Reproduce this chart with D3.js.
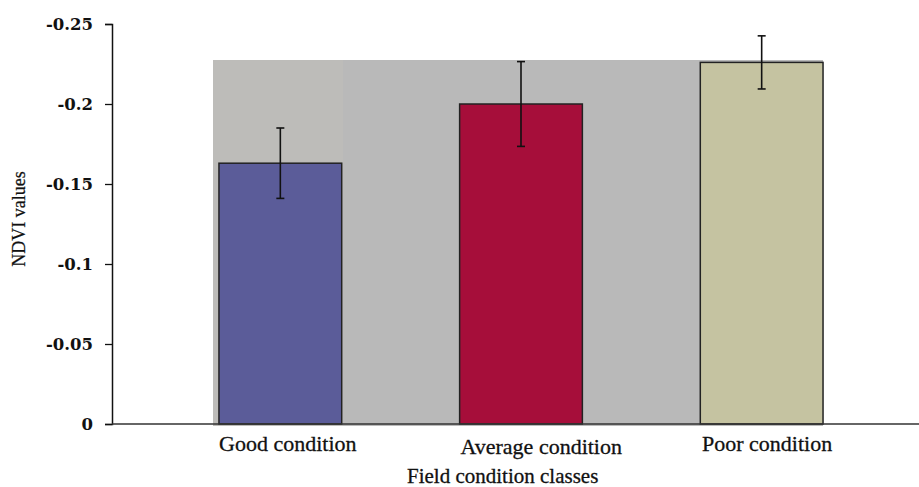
<!DOCTYPE html>
<html>
<head>
<meta charset="utf-8">
<script src="https://cdn.jsdelivr.net/npm/d3@7"></script>
<style>
  html, body { margin: 0; padding: 0; background: #fff; }
  svg { display: block; }
</style>
</head>
<body>
<svg id="chart" width="919" height="487"></svg>
<script>
// NDVI means per field condition class, with their error margins
const categories = ["Good condition", "Average condition", "Poor condition"];
const ndviMeans = [-0.163, -0.2, -0.226];
const ndviErrors = [0.022, 0.0265, 0.0166];
const barColors = ["#5b5c99", "#a60e3a", "#c5c3a1"];
const yTickValues = [0, -0.05, -0.1, -0.15, -0.2, -0.25];
const yTickLabels = ["0", "-0.05", "-0.1", "-0.15", "-0.2", "-0.25"];
const xTitle = "Field condition classes";
const yTitle = "NDVI values";

const svg = d3.select("#chart");
const axisX = 112, baseY = 424, topY = 24;

const y = d3.scaleLinear().domain([0, -0.25]).range([baseY, topY]);
const x = d3.scaleBand().domain(categories).range([160, 882])
  .paddingInner(0.49).paddingOuter(0.245);
// category labels start near the left edge of each bar
const labelX = d3.scalePoint().domain(categories).range([219, 702]);

// plot area panel behind the bars
svg.append("rect")
  .attr("x", 213).attr("y", y(-0.2275))
  .attr("width", 610).attr("height", baseY + 2 - y(-0.2275))
  .attr("fill", "#b9b9b9");
svg.append("rect")
  .attr("x", 213).attr("y", y(-0.2275))
  .attr("width", 130).attr("height", baseY + 2 - y(-0.2275))
  .attr("fill", "#bdbcb9");

// bars
svg.append("g").selectAll("rect")
  .data(categories)
  .join("rect")
  .attr("x", d => x(d))
  .attr("y", (d, i) => y(ndviMeans[i]))
  .attr("width", x.bandwidth())
  .attr("height", (d, i) => y(0) - y(ndviMeans[i]))
  .attr("fill", (d, i) => barColors[i])
  .attr("stroke", "#222")
  .attr("stroke-width", 1.5);

// error bars
const eb = svg.append("g").attr("stroke", "#111").attr("stroke-width", 1.6);
categories.forEach((c, i) => {
  const cx = x(c) + x.bandwidth() / 2;
  const hi = y(ndviMeans[i] - ndviErrors[i]);
  const lo = y(ndviMeans[i] + ndviErrors[i]);
  eb.append("line").attr("x1", cx).attr("x2", cx).attr("y1", hi).attr("y2", lo);
  eb.append("line").attr("x1", cx - 4).attr("x2", cx + 4).attr("y1", hi).attr("y2", hi);
  eb.append("line").attr("x1", cx - 4).attr("x2", cx + 4).attr("y1", lo).attr("y2", lo);
});

// y axis
const yAxis = d3.axisLeft(y)
  .tickValues(yTickValues)
  .tickFormat((d, i) => yTickLabels[i])
  .tickSize(7)
  .tickPadding(12);
const gy = svg.append("g").attr("transform", `translate(${axisX},0)`).call(yAxis);
gy.select(".domain").attr("stroke", "#111").attr("stroke-width", 1.5);
gy.selectAll(".tick line").attr("stroke", "#111").attr("stroke-width", 1.3);
gy.selectAll(".tick text")
  .attr("fill", "#111")
  .style("font-family", "'DejaVu Serif', serif")
  .style("font-weight", "bold")
  .style("font-size", "16.5px");

// x axis baseline
svg.append("line")
  .attr("x1", axisX).attr("x2", 919)
  .attr("y1", y(0)).attr("y2", y(0))
  .attr("stroke", "#333").attr("stroke-width", 1.3);

// category labels
svg.append("g").selectAll("text")
  .data(categories)
  .join("text")
  .attr("x", d => labelX(d))
  .attr("y", (d, i) => i === 1 ? 454 : 451)
  .attr("fill", "#111")
  .attr("stroke", "#111")
  .attr("stroke-width", 0.3)
  .style("font-family", "'Liberation Serif', serif")
  .style("font-size", "22px")
  .text(d => d);

// axis titles
svg.append("text")
  .attr("x", 407).attr("y", 483)
  .attr("fill", "#111")
  .attr("stroke", "#111")
  .attr("stroke-width", 0.3)
  .style("font-family", "'Liberation Serif', serif")
  .style("font-size", "21px")
  .text(xTitle);

svg.append("text")
  .attr("transform", "translate(25,219) rotate(-90)")
  .attr("text-anchor", "middle")
  .attr("fill", "#111")
  .attr("stroke", "#111")
  .attr("stroke-width", 0.25)
  .style("font-family", "'Liberation Serif', serif")
  .style("font-size", "18px")
  .text(yTitle);
</script>
</body>
</html>
